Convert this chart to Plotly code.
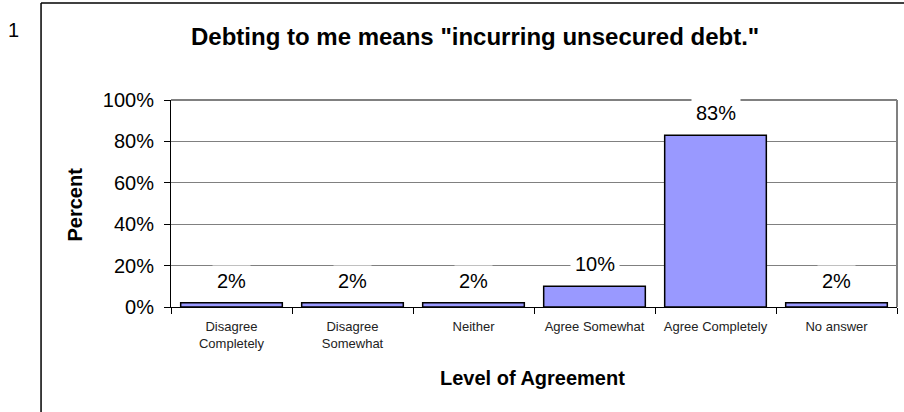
import plotly.graph_objects as go

# Survey responses
categories = ['Disagree<br>Completely', 'Disagree<br>Somewhat', 'Neither',
              'Agree Somewhat', 'Agree Completely', 'No answer']
percents = [2, 2, 2, 10, 83, 2]
labels = ['2%', '2%', '2%', '10%', '83%', '2%']
y_ticks = [0, 20, 40, 60, 80, 100]
y_tick_text = ['0%', '20%', '40%', '60%', '80%', '100%']

font = 'Arial, Liberation Sans, sans-serif'

fig = go.Figure()
fig.add_trace(go.Bar(
    x=categories, y=percents,
    marker=dict(color='#9999FF', line=dict(color='black', width=1.5)),
    hoverinfo='skip',
))

# Value labels with white boxes (they break the gridlines, like in Excel)
for cat, val, lab in zip(categories, percents, labels):
    fig.add_annotation(x=cat, y=val, text=lab, showarrow=False,
                       xanchor='center', yanchor='middle', yshift=22,
                       bgcolor='white', borderpad=4,
                       font=dict(size=20, color='black', family=font))

# Outer chart frame and plot area border (top/right in gray)
fig.add_shape(type='line', xref='paper', yref='paper', x0=-0.179, x1=1.03,
              y0=1.469, y1=1.469, line=dict(color='black', width=1.5), layer='below')
fig.add_shape(type='line', xref='paper', yref='paper', x0=-0.179, x1=-0.179,
              y0=1.469, y1=-0.55, line=dict(color='black', width=1.5), layer='below')
fig.add_shape(type='line', xref='paper', yref='paper', x0=0, x1=1,
              y0=1, y1=1, line=dict(color='#808080', width=2), layer='below')
fig.add_shape(type='line', xref='paper', yref='paper', x0=1, x1=1,
              y0=0, y1=1, line=dict(color='#808080', width=2), layer='below')

# Title, axis titles and page number
texts = [
    (0.4187, 1.309, '<b>Debting to me means "incurring unsecured debt."</b>', 24, 0),
    (0.4986, -0.343, '<b>Level of Agreement</b>', 20, 0),
    (-0.1322, 0.495, '<b>Percent</b>', 20, -90),
    (-0.2163, 1.338, '1', 20, 0),
]
for x, y, t, size, angle in texts:
    fig.add_annotation(xref='paper', yref='paper', x=x, y=y, text=t,
                       textangle=angle, xanchor='center', yanchor='middle',
                       showarrow=False,
                       font=dict(size=size, color='black', family=font))

fig.update_layout(
    width=904, height=412,
    margin=dict(l=171, r=7, t=100, b=105),
    paper_bgcolor='white', plot_bgcolor='white',
    showlegend=False,
    bargap=0.16,
    font=dict(family=font, color='black'),
    xaxis=dict(
        showline=True, linecolor='black', linewidth=1,
        ticks='outside', ticklen=6, tickcolor='black', tickson='boundaries',
        tickfont=dict(size=13, family=font, color='#222'),
        ticklabelstandoff=7, automargin=False,
        showgrid=False,
    ),
    yaxis=dict(
        range=[0, 100], tickvals=y_ticks, ticktext=y_tick_text,
        showline=True, linecolor='black', linewidth=1,
        ticks='outside', ticklen=6, tickcolor='black',
        tickfont=dict(size=20, family=font, color='black'),
        ticklabelstandoff=6, automargin=False,
        showgrid=True, gridcolor='#808080', gridwidth=1,
        zeroline=False,
    ),
)

fig.write_html('out.html', config={'displayModeBar': False},
               post_script="document.body.style.margin='0';")
